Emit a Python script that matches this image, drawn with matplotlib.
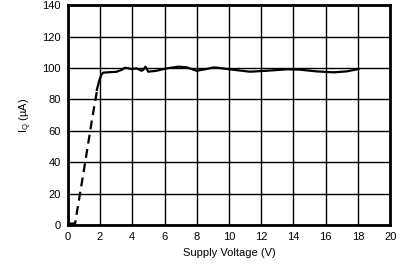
import matplotlib
matplotlib.use('Agg')
from matplotlib import pyplot as plt

plt.rcParams['font.family'] = ['Liberation Sans', 'DejaVu Sans']

# ramp-up part (dashed)
ramp_v = [0.1, 0.45, 1.0, 1.5, 1.85]
ramp_i = [1.0, 1.0, 35.0, 67.0, 88.0]

# regulated part (solid)
supply_v = [1.8, 1.95, 2.1, 2.2, 2.6, 3.0, 3.33, 3.54, 3.75, 3.95, 4.27, 4.58, 4.7, 4.82,
            4.99, 5.5, 6.13, 6.85, 7.36, 8.0, 8.6, 9.03, 9.24, 10.06, 11.3, 12.34,
            13.58, 14.4, 15.45, 16.48, 17.3, 18.03]
iq = [86.0, 92.0, 96.0, 97.0, 97.3, 97.5, 98.7, 100.1, 99.8, 99.3, 99.7, 98.2, 99.0, 100.8,
      97.6, 98.2, 99.7, 100.8, 100.4, 98.2, 99.3, 100.3, 100.2, 99.1, 97.6, 98.2,
      99.1, 98.9, 97.8, 97.2, 97.8, 99.3]

fig = plt.figure(figsize=(4.06, 2.67), dpi=100)
ax = fig.add_axes([0.167, 0.157, 0.794, 0.824])
ax.plot(ramp_v, ramp_i, color='black', lw=1.6, linestyle=(0, (4, 2.5)), zorder=3, clip_on=False)
ax.plot(supply_v, iq, color='black', lw=1.6, zorder=3)

ax.set_xlim(0, 20)
ax.set_ylim(0, 140)
ax.set_xticks(range(0, 21, 2))
ax.set_yticks(range(0, 141, 20))
ax.grid(True, color='black', lw=1.0)
ax.tick_params(length=0, labelsize=8, pad=5)
for s in ax.spines.values():
    s.set_linewidth(2)
ax.set_xlabel('Supply Voltage (V)', fontsize=8)
ax.set_ylabel(r'I$_\mathregular{Q}$ (µA)', fontsize=8, labelpad=6)

plt.savefig('out.png', dpi=100)
